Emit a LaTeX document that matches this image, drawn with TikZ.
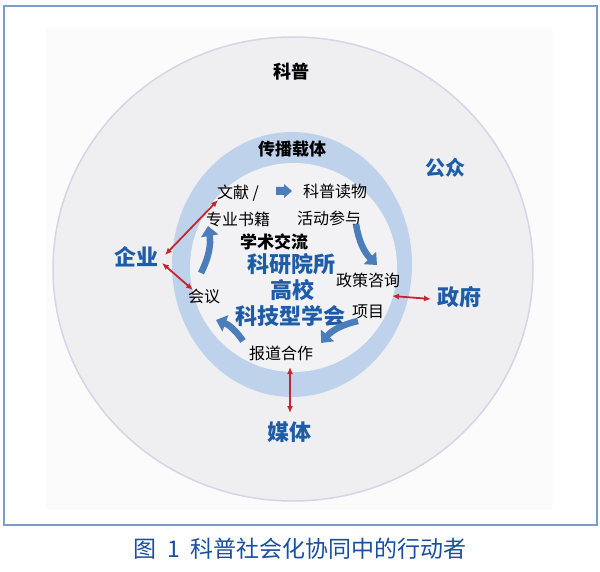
\documentclass[tikz,border=0pt]{standalone}
\usepackage{fontspec}
\setmainfont{Noto Sans CJK SC}
\usetikzlibrary{arrows.meta}
\definecolor{frameblue}{HTML}{7B9DCA}
\definecolor{panel}{HTML}{FBFBFC}
\definecolor{ellfill}{HTML}{EFEFF1}
\definecolor{elledge}{HTML}{D6D4E6}
\definecolor{ringblue}{HTML}{BFD2EB}
\definecolor{innerfill}{HTML}{F2F2F4}
\definecolor{actblue}{HTML}{1E5CA8}
\definecolor{arrblue}{HTML}{4A7DBA}
\definecolor{redarr}{HTML}{C4262E}
\definecolor{capblue}{HTML}{1A4F9F}
\begin{document}
\begin{tikzpicture}[x=1pt,y=-1pt,
  actor/.style={text=actblue,font=\bfseries\fontsize{22}{24}\selectfont,inner sep=0pt},
  lbl/.style={text=black,font=\fontsize{16}{18}\selectfont,inner sep=0pt},
  blk/.style={text=black,font=\bfseries\fontsize{17}{19}\selectfont,inner sep=0pt},
  cyc/.style={draw=arrblue,line width=6.5pt,-{Triangle[width=17pt,length=10pt]}},
  link/.style={draw=redarr,line width=1.8pt,{Latex[length=7pt,width=6pt]}-{Latex[length=7pt,width=6pt]}}]
\useasboundingbox (0,0) rectangle (600,572);
\fill[white] (0,0) rectangle (600,572);
\draw[frameblue,line width=1.5pt] (4,6) rectangle (597,525);
\fill[panel] (46,28) rectangle (553,510);
\filldraw[fill=ellfill,draw=elledge,line width=1.5pt] (293,269) ellipse[x radius=240,y radius=232];
\fill[ringblue] (292,264.5) ellipse[x radius=120,y radius=132.5];
\fill[innerfill] (293.5,267.5) ellipse[x radius=103.5,y radius=104.5];
% texts
\node[blk,font=\bfseries\fontsize{18}{20}\selectfont] (kepu) at (291,72) {科普};
\node[actor,font=\bfseries\fontsize{20}{22}\selectfont] (gongzhong) at (445,168) {公众};
\node[blk] (carrier) at (292,149) {传播载体};
\node[lbl] (wenxian) at (238,193) {文献 /};
\node[lbl] (zhuanye) at (238,219) {专业书籍};
\node[lbl] (kepudw) at (335,191) {科普读物};
\node[lbl] (huodong) at (329,218) {活动参与};
\node[blk] (xueshu) at (274,242) {学术交流};
\node[actor] (kyys) at (291,264) {科研院所};
\node[actor] (gaoxiao) at (292,290) {高校};
\node[actor] (kjxh) at (290,316) {科技型学会};
\node[lbl] (zhengce) at (368,280) {政策咨询};
\node[lbl] (xiangmu) at (368,312) {项目};
\node[lbl] (huiyi) at (204,296) {会议};
\node[lbl] (baodao) at (281,353) {报道合作};
\node[actor] (qiye) at (136,257) {企业};
\node[actor] (zhengfu) at (459,297) {政府};
\node[actor] (meiti) at (289,432) {媒体};
\node[text=capblue,font=\fontsize{23}{25}\selectfont,inner sep=0pt] (caption) at (300,549) {图\hspace{0.45em}1\hspace{0.45em}科普社会化协同中的行动者};
% small block arrow
\fill[arrblue] (276,187) -- (284,187) -- (284,184) -- (292,191) -- (284,198) -- (284,195) -- (276,195) -- cycle;
% cycle arrows
\coordinate (a1s) at (201,273); \coordinate (a1e) at (208,226);
\coordinate (a2s) at (356,224); \coordinate (a2e) at (377,265);
\coordinate (a3s) at (358,321); \coordinate (a3e) at (321,343);
\coordinate (a4s) at (243,341); \coordinate (a4e) at (216,320);
\draw[cyc] (a1s) to[bend right=18] (a1e);
\draw[cyc] (a2s) to[bend right=18] (a2e);
\draw[cyc] (a3s) to[bend right=18] (a3e);
\draw[cyc] (a4s) to[bend right=18] (a4e);
% red links
\coordinate (q1) at (165,255); \coordinate (w1) at (218,200);
\coordinate (q2) at (162,263); \coordinate (h1) at (193,290);
\coordinate (z1) at (392,296); \coordinate (f1) at (431,299);
\coordinate (b1) at (290,367); \coordinate (m1) at (290,413);
\draw[link] (q1) -- (w1);
\draw[link] (q2) -- (h1);
\draw[link] (z1) -- (f1);
\draw[link] (b1) -- (m1);
\end{tikzpicture}
\end{document}
